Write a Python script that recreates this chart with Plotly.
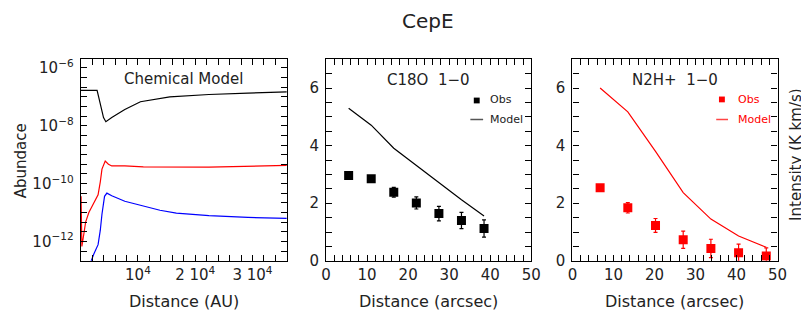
import plotly.graph_objects as go

# ---------------- data ----------------
# Left panel: chemical model abundances vs distance (AU)
black_dist = [0, 2860, 3130, 3590, 3980, 4390, 5420, 7700, 10430, 15560, 22400, 29200, 36000]
black_abund = [1.66e-7, 1.66e-7, 1.0e-7, 3.63e-8, 1.91e-8, 1.38e-8, 1.91e-8, 3.63e-8,
               6.76e-8, 1.0e-7, 1.2e-7, 1.35e-7, 1.48e-7]

red_dist = [60, 200, 560, 855, 1420, 2270, 3030, 3420, 3710, 4280, 4840, 5420, 7700,
            10940, 22400, 36000]
red_abund = [3.63e-11, 6.76e-13, 1.91e-12, 4.68e-12, 1.0e-11, 2.14e-11, 4.07e-11, 1.15e-10,
             3.16e-10, 6.03e-10, 4.68e-10, 4.07e-10, 4.07e-10, 3.8e-10, 3.72e-10, 4.27e-10]

blue_dist = [1500, 1710, 2270, 3030, 3420, 3710, 4160, 4570, 5420, 7700, 10940, 13840,
             16700, 22400, 29200, 36000]
blue_abund = [1.41e-13, 1.91e-13, 3.63e-13, 7.76e-13, 2.45e-12, 8.71e-12, 3.63e-11, 4.68e-11,
              3.8e-11, 2.45e-11, 1.66e-11, 1.2e-11, 9.55e-12, 7.76e-12, 6.76e-12, 6.31e-12]

# Middle panel: C18O 1-0
c18o_x = [5.5, 11.0, 16.5, 22.0, 27.5, 33.0, 38.5]
c18o_obs = [2.96, 2.85, 2.38, 2.01, 1.64, 1.40, 1.12]
c18o_err = [0.08, 0.1, 0.17, 0.21, 0.25, 0.28, 0.30]
c18o_model = [5.30, 4.71, 3.91, 3.31, 2.70, 2.12, 1.56]

# Right panel: N2H+ 1-0
n2h_x = [6.75, 13.5, 20.25, 27.0, 33.75, 40.5, 47.25]
n2h_obs = [2.54, 1.84, 1.23, 0.73, 0.43, 0.28, 0.17]
n2h_err = [0.08, 0.18, 0.24, 0.30, 0.32, 0.30, 0.28]
n2h_model = [6.0, 5.17, 3.8, 2.37, 1.45, 0.86, 0.47]

# tick labels (major ticks)
left_xticks = {10000: "10<sup>4</sup>", 20000: "2 10<sup>4</sup>", 30000: "3 10<sup>4</sup>"}
left_yticks = {-12: "10<sup>\u221212</sup>\u2009", -10: "10<sup>\u221210</sup>\u2009",
               -8: "10<sup>\u22128</sup>\u2009", -6: "10<sup>\u22126</sup>\u2009"}
lin_yticks = [0, 2, 4, 6]
lin_xticks = [0, 10, 20, 30, 40, 50]

# ---------------- layout helpers ----------------
W, H = 809, 312
FONT = "DejaVu Sans"
TXT = "#222222"
AX = "#000000"


def px(x):
    return x / W


def py(y):
    return 1 - y / H


fig = go.Figure()
fig.add_trace(go.Scatter(x=black_dist, y=black_abund, mode="lines",
                         line=dict(color="black", width=1.2), xaxis="x", yaxis="y"))
fig.add_trace(go.Scatter(x=red_dist, y=red_abund, mode="lines",
                         line=dict(color="#ff0000", width=1.2), xaxis="x", yaxis="y"))
fig.add_trace(go.Scatter(x=blue_dist, y=blue_abund, mode="lines",
                         line=dict(color="#0000ff", width=1.2), xaxis="x", yaxis="y"))
fig.add_trace(go.Scatter(x=c18o_x, y=c18o_model, mode="lines",
                         line=dict(color="black", width=1.2), xaxis="x2", yaxis="y2"))
fig.add_trace(go.Scatter(x=c18o_x, y=c18o_obs, mode="markers",
                         marker=dict(symbol="square", size=9, color="black"),
                         error_y=dict(type="data", array=c18o_err, color="black",
                                      thickness=1.2, width=2),
                         xaxis="x2", yaxis="y2"))
fig.add_trace(go.Scatter(x=n2h_x, y=n2h_model, mode="lines",
                         line=dict(color="#ff0000", width=1.2), xaxis="x3", yaxis="y3"))
fig.add_trace(go.Scatter(x=n2h_x, y=n2h_obs, mode="markers",
                         marker=dict(symbol="square", size=9, color="#ff0000"),
                         error_y=dict(type="data", array=n2h_err, color="#ff0000",
                                      thickness=1.2, width=2),
                         xaxis="x3", yaxis="y3"))

# all tick positions (major + minor), labels only on the majors
au_vals = list(range(0, 36001, 2000))
au_text = [left_xticks.get(v, "") for v in au_vals]
log_steps = list(range(-38, -17))
log_vals = [10 ** (k / 3) for k in log_steps]
log_text = [left_yticks.get(k // 3, "") if k % 3 == 0 else "" for k in log_steps]
arc_vals = list(range(0, 51, 2))
arc_text = [str(v) if v in lin_xticks else "" for v in arc_vals]
int_vals = [v / 2 for v in range(0, 15)]
int_text = [("%d\u2009" % v) if v in lin_yticks else "" for v in int_vals]


def axis(**kw):
    d = dict(showline=True, linecolor=AX, linewidth=1.2, mirror="allticks",
             ticks="inside", ticklen=6, tickwidth=1.2, tickcolor=AX,
             showgrid=False, zeroline=False, tickmode="array",
             tickfont=dict(family=FONT, size=15, color=TXT))
    d.update(kw)
    return d


ydom = [py(260), py(51)]

fig.update_layout(
    width=W, height=H, margin=dict(l=0, r=0, t=0, b=0),
    paper_bgcolor="white", plot_bgcolor="white", showlegend=False,
    xaxis=axis(domain=[px(69), px(279)], range=[0, 36000], anchor="y",
               tickvals=au_vals, ticktext=au_text),
    yaxis=axis(domain=ydom, type="log", range=[-12.67, -5.7], anchor="x",
               tickvals=log_vals, ticktext=log_text),
    xaxis2=axis(domain=[px(319), px(528)], range=[0, 50], anchor="y2",
                tickvals=arc_vals, ticktext=arc_text),
    yaxis2=axis(domain=ydom, range=[0, 7], anchor="x2",
                tickvals=int_vals, ticktext=int_text),
    xaxis3=axis(domain=[px(570), px(779)], range=[0, 50], anchor="y3",
                tickvals=arc_vals, ticktext=arc_text),
    yaxis3=axis(domain=ydom, range=[0, 7], anchor="x3",
                tickvals=int_vals, ticktext=int_text),
)


def ann(text, x, y, size, color=TXT, angle=0, xanchor="center"):
    fig.add_annotation(text=text, x=px(x), y=py(y), xref="paper", yref="paper",
                       showarrow=False, textangle=angle, xanchor=xanchor, yanchor="middle",
                       font=dict(family=FONT, size=size, color=color))


ann("CepE", 423, 11, 20)
ann("Chemical Model", 174, 72, 15)
ann("C18O  1\u22120", 423, 73, 15)
ann("N2H+  1\u22120", 674, 73, 15)
ann("Distance (AU)", 174, 302, 16)
ann("Distance (arcsec)", 423, 302, 16)
ann("Distance (arcsec)", 674, 302, 16)
ann("Abundace", 8, 156, 15, angle=-90)
ann("Intensity (K km/s)", 798, 150, 15, angle=-90)

# legends
ann("Obs", 484, 93, 11, xanchor="left")
ann("Model", 484, 113, 11, xanchor="left")
ann("Obs", 737, 93, 11, color="#ff0000", xanchor="left")
ann("Model", 737, 113, 11, color="#ff0000", xanchor="left")

fig.add_shape(type="rect", xref="paper", yref="paper",
              x0=px(469.5), x1=px(475.5), y0=py(96.8), y1=py(90.8),
              fillcolor="black", line=dict(width=0))
fig.add_shape(type="line", xref="paper", yref="paper",
              x0=px(466), x1=px(479), y0=py(113.5), y1=py(113.5),
              line=dict(color="#555555", width=1.5))
fig.add_shape(type="rect", xref="paper", yref="paper",
              x0=px(719.3), x1=px(725.3), y0=py(95.7), y1=py(89.7),
              fillcolor="#ff0000", line=dict(width=0))
fig.add_shape(type="line", xref="paper", yref="paper",
              x0=px(716.5), x1=px(728.5), y0=py(113.5), y1=py(113.5),
              line=dict(color="#ff4444", width=1.5))

fig.write_html("out.html")
